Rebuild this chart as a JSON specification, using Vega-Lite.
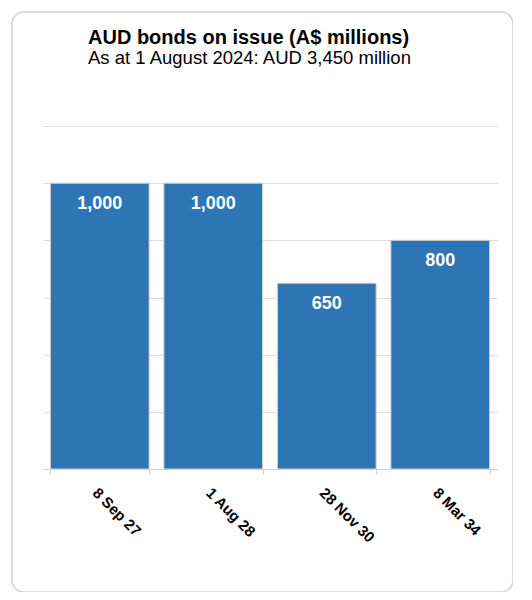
{
  "$schema": "https://vega.github.io/schema/vega-lite/v6.json",
  "autosize": "none",
  "padding": {"left": 12, "top": 12, "right": 0, "bottom": 0},
  "width": 501,
  "height": 580,
  "title": {
    "text": "AUD bonds on issue (A$ millions)",
    "subtitle": "As at 1 August 2024: AUD 3,450 million",
    "anchor": "start",
    "frame": "group",
    "offset": 0,
    "dx": 76,
    "dy": 55,
    "font": "Liberation Sans",
    "fontSize": 20,
    "fontWeight": "bold",
    "color": "#000000",
    "subtitleFont": "Liberation Sans",
    "subtitleFontSize": 18.5,
    "subtitleColor": "#000000",
    "subtitlePadding": 0.5
  },
  "data": {
    "values": [
      {"maturity": "8 Sep 27", "amount": 1000},
      {"maturity": "1 Aug 28", "amount": 1000},
      {"maturity": "28 Nov 30", "amount": 650},
      {"maturity": "8 Mar 34", "amount": 800}
    ]
  },
  "encoding": {
    "x": {
      "field": "maturity",
      "type": "nominal",
      "sort": null,
      "scale": {"range": [31, 485], "paddingInner": 0.13, "paddingOuter": 0.065},
      "axis": {
        "title": null,
        "offset": -123,
        "labelAngle": 45,
        "labelAlign": "left",
        "labelBaseline": "top",
        "labelPadding": 11,
        "labelFont": "Liberation Sans",
        "labelFontSize": 15,
        "labelFontWeight": "bold",
        "labelColor": "#000000",
        "tickBand": "extent",
        "tickSize": 5,
        "tickColor": "#d0d0d0",
        "domainColor": "#d0d0d0",
        "grid": false
      }
    },
    "y": {
      "field": "amount",
      "type": "quantitative",
      "scale": {"domain": [0, 1200], "range": [457, 114], "nice": false},
      "axis": {
        "title": null,
        "values": [200, 400, 600, 800, 1000, 1200],
        "labels": false,
        "ticks": false,
        "domain": false,
        "grid": true,
        "gridColor": "#dcdcdc"
      }
    }
  },
  "layer": [
    {
      "mark": {"type": "bar", "color": "#2e75b6", "stroke": "#d4d4d4", "strokeWidth": 1}
    },
    {
      "mark": {
        "type": "text",
        "color": "#ffffff",
        "font": "Liberation Sans",
        "fontSize": 18,
        "fontWeight": "bold",
        "baseline": "alphabetic",
        "dy": 26
      },
      "encoding": {
        "text": {"field": "amount", "type": "quantitative", "format": ","}
      }
    }
  ],
  "config": {
    "view": {"stroke": "#d0d0d0", "strokeWidth": 1.5, "cornerRadius": 12}
  }
}
